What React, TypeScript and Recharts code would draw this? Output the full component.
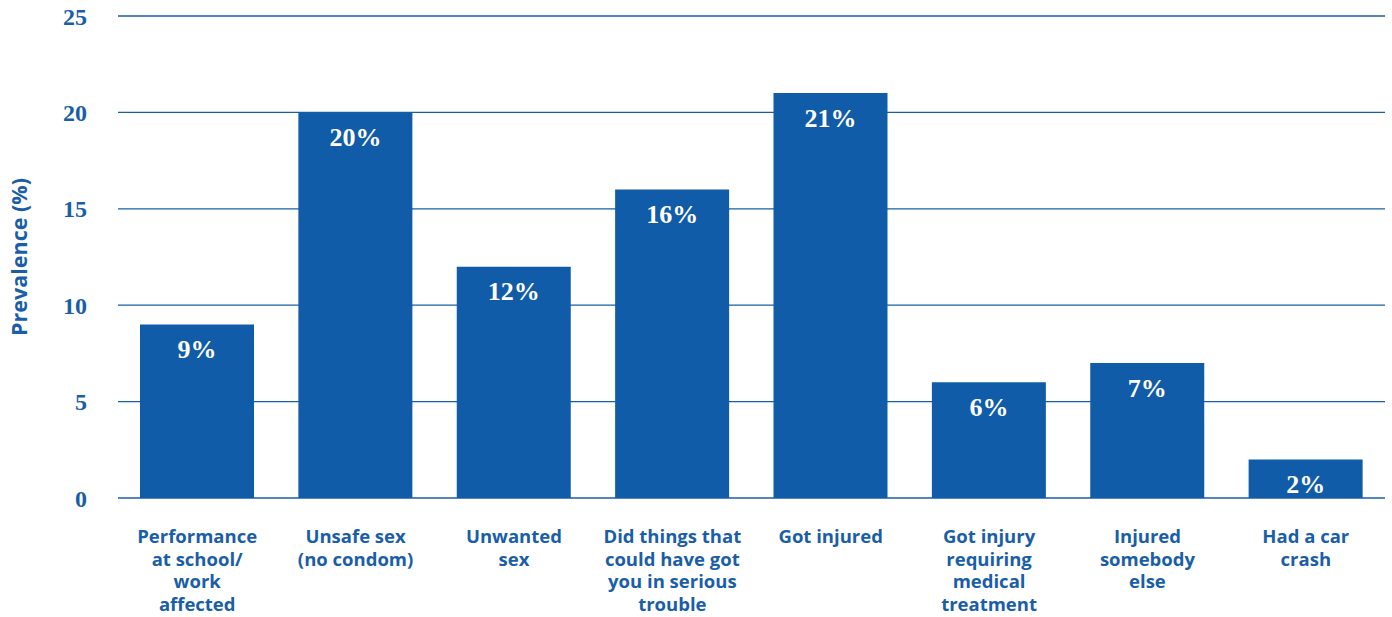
import React from "react";
import { BarChart, Bar, XAxis, YAxis, CartesianGrid, LabelList } from "recharts";

const categories = [
  "Performance\nat school/\nwork\naffected",
  "Unsafe sex\n(no condom)",
  "Unwanted\nsex",
  "Did things that\ncould have got\nyou in serious\ntrouble",
  "Got injured",
  "Got injury\nrequiring\nmedical\ntreatment",
  "Injured\nsomebody\nelse",
  "Had a car\ncrash",
];
const prevalence = [9, 20, 12, 16, 21, 6, 7, 2];
const yTicks = [0, 5, 10, 15, 20, 25];

const data = categories.map((c, i) => ({ name: c, value: prevalence[i] }));

const BLUE = "#115ca8";
const TEXT = "#1a5ea8";

const CatTick = (props: any) => {
  const { x, y, payload } = props;
  const lines = String(payload.value).split("\n");
  return (
    <g transform={`translate(${x},${y})`}>
      {lines.map((l: string, i: number) => (
        <text
          key={i}
          x={0}
          y={i * 22.5}
          dy={6}
          textAnchor="middle"
          fill={TEXT}
          fontSize={18.5}
          fontWeight={700}
          fontFamily="'Open Sans', sans-serif"
        >
          {l}
        </text>
      ))}
    </g>
  );
};

export default function App() {
  return (
    <div style={{ position: "absolute", left: 0, top: 0, background: "#fff" }}>
      <BarChart
        width={1392}
        height={617}
        data={data}
        margin={{ top: 16, right: 7, bottom: 89, left: 0 }}
        barSize={114}
      >
        <CartesianGrid vertical={false} stroke={TEXT} strokeWidth={1.3} />
        <XAxis
          dataKey="name"
          height={30}
          interval={0}
          axisLine={false}
          tickLine={false}
          tickSize={0}
          tickMargin={39}
          tick={<CatTick />}
        />
        <YAxis
          width={118}
          domain={[0, 25]}
          ticks={yTicks}
          axisLine={false}
          tickLine={false}
          tickSize={0}
          tickMargin={31}
          tick={{ fill: TEXT, fontSize: 24, fontWeight: 700, fontFamily: "'Liberation Serif', serif" }}
          label={{
            value: "Prevalence (%)",
            angle: -90,
            position: "insideLeft",
            dx: 14,
            style: { fill: TEXT, fontSize: 21.5, fontWeight: 700, fontFamily: "'Open Sans', sans-serif", textAnchor: "middle" },
          }}
        />
        <Bar dataKey="value" fill={BLUE} isAnimationActive={false}>
          <LabelList
            dataKey="value"
            position="insideTop"
            offset={15}
            formatter={(v: any) => `${v}%`}
            style={{ fill: "#fff", fontSize: 26, fontWeight: 700, fontFamily: "'Liberation Serif', serif" }}
          />
        </Bar>
      </BarChart>
    </div>
  );
}
